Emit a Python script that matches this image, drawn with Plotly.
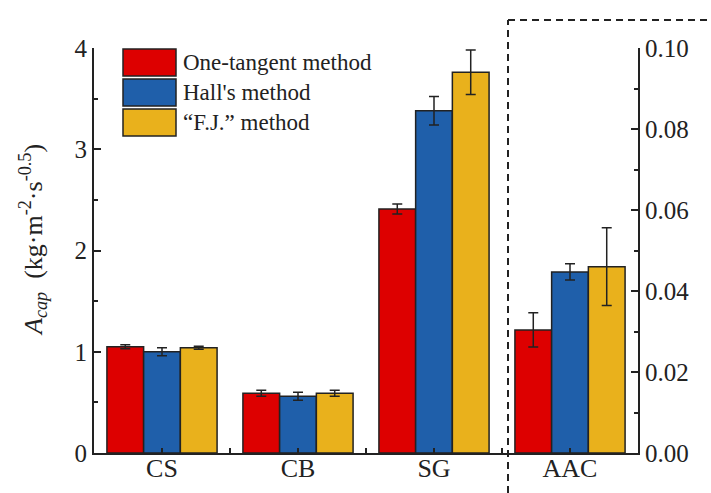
import plotly.graph_objects as go

# Samples and methods
categories = ["CS", "CB", "SG", "AAC"]
methods = ["One-tangent method", "Hall's method", "\u201cF.J.\u201d method"]
colors = ["#DD0000", "#1F5FAA", "#E9B11C"]

# A_cap for CS, CB, SG (left axis, kg·m^-2·s^-0.5)
left_values = {
    "One-tangent method": [1.05, 0.59, 2.41],
    "Hall's method": [1.00, 0.56, 3.38],
    "\u201cF.J.\u201d method": [1.04, 0.59, 3.76],
}
left_errors = {
    "One-tangent method": [0.02, 0.03, 0.05],
    "Hall's method": [0.04, 0.04, 0.14],
    "\u201cF.J.\u201d method": [0.015, 0.03, 0.22],
}
# A_cap for AAC (right axis)
aac_values = [0.0304, 0.0447, 0.0460]
aac_errors = [0.0042, 0.0020, 0.0096]

FONT = "Liberation Serif, Times New Roman, serif"
INK = "#222"

fig = go.Figure()
xs_left = list(range(3))
for i, m in enumerate(methods):
    fig.add_trace(go.Bar(
        x=xs_left, y=left_values[m], name=m, yaxis="y",
        marker=dict(color=colors[i], line=dict(color=INK, width=1.5)),
        error_y=dict(type="data", array=left_errors[m], color=INK,
                     thickness=1.5, width=5),
        showlegend=False,
    ))
for i, m in enumerate(methods):
    fig.add_trace(go.Bar(
        x=[3], y=[aac_values[i]], name=m, yaxis="y2",
        marker=dict(color=colors[i], line=dict(color=INK, width=1.5)),
        error_y=dict(type="data", array=[aac_errors[i]], color=INK,
                     thickness=1.5, width=5),
        showlegend=False,
    ))

# Plot area in pixels
L, T, R, B = 94, 48, 73, 40
W, H = 711 - L - R, 493 - T - B


def px_x(p):
    return (p - L) / W


def px_y(p):
    return (T + H - p) / H


shapes = []
annotations = []

# Hand-built legend with large swatches
for i, m in enumerate(methods):
    top = 49 + 30 * i
    shapes.append(dict(type="rect", xref="paper", yref="paper",
                       x0=px_x(123), x1=px_x(176), y0=px_y(top + 27), y1=px_y(top),
                       fillcolor=colors[i], line=dict(color=INK, width=1.5)))
    annotations.append(dict(xref="paper", yref="paper", x=px_x(181), y=px_y(top + 13.5),
                            text=m, showarrow=False, xanchor="left", yanchor="middle",
                            font=dict(family=FONT, size=23, color=INK)))

# Dashed frame around the AAC group
dash = dict(color=INK, width=2, dash="7px,5px")
shapes.append(dict(type="line", xref="paper", yref="paper",
                   x0=px_x(508), x1=px_x(508), y0=px_y(493), y1=px_y(20), line=dash))
shapes.append(dict(type="line", xref="paper", yref="paper",
                   x0=px_x(508), x1=px_x(711), y0=px_y(20), y1=px_y(20), line=dash))

# Y-axis title
annotations.append(dict(
    xref="paper", yref="paper", x=px_x(33), y=px_y(240), textangle=-90,
    text="<i>A</i><sub><i>cap</i></sub>  (kg\u00b7m<sup>-2</sup>\u00b7s<sup>-0.5</sup>)",
    showarrow=False, xanchor="center", yanchor="middle",
    font=dict(family=FONT, size=26, color=INK)))

tick_style = dict(ticks="inside", tickwidth=1.5, tickcolor=INK,
                  showline=True, linecolor=INK, linewidth=2,
                  showgrid=False, zeroline=False, automargin=False)

fig.update_layout(
    width=711, height=493,
    margin=dict(l=L, r=R, t=T, b=B),
    paper_bgcolor="white", plot_bgcolor="white",
    barmode="group", bargap=0.19, bargroupgap=0,
    font=dict(family=FONT, size=25, color=INK),
    shapes=shapes, annotations=annotations,
    xaxis=dict(
        range=[-0.5, 3.5], tickmode="array", tickvals=list(range(4)), ticktext=categories,
        ticklen=5, tickfont=dict(size=26), ticklabelstandoff=-9,
        minor=dict(tick0=0.5, dtick=1, ticks="inside", ticklen=5, tickwidth=1.5, tickcolor=INK),
        **tick_style,
    ),
    yaxis=dict(
        range=[0, 4], dtick=1, ticklen=7,
        minor=dict(dtick=0.5, ticks="inside", ticklen=4, tickwidth=1.5, tickcolor=INK),
        **tick_style,
    ),
    yaxis2=dict(
        range=[0, 0.1], dtick=0.02, tickformat=".2f", overlaying="y", side="right",
        ticklen=7,
        minor=dict(dtick=0.01, ticks="inside", ticklen=4, tickwidth=1.5, tickcolor=INK),
        **tick_style,
    ),
)

fig.write_html("out.html")
